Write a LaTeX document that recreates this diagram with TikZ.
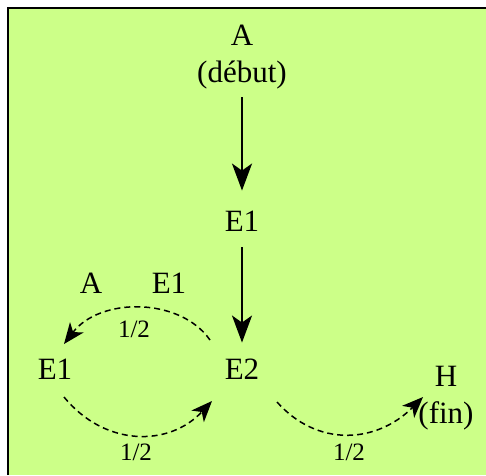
\documentclass[tikz,border=0pt]{standalone}
\usepackage{fontspec}
\setmainfont{Liberation Serif}
\usetikzlibrary{arrows.meta,calc}
\definecolor{bggreen}{RGB}{204,255,136}
\begin{document}
\begin{tikzpicture}[x=1pt,y=-1pt,
  lbl/.style={inner sep=0pt,font=\fontsize{31}{37}\selectfont,align=center},
  prob/.style={inner sep=0pt,font=\fontsize{25}{28}\selectfont},
  solidarrow/.style={line width=2.2pt,-{Stealth[length=27pt,width=20pt,inset=7pt]}},
  dasharrow/.style={line width=1.5pt,dash pattern=on 6pt off 4pt,-{Stealth[length=21pt,width=17pt,inset=6pt]}}]
\useasboundingbox (0,0) rectangle (486,475);
\fill[white] (0,0) rectangle (486,475);
\fill[bggreen] (8,8) rectangle (486,475);
\draw[line width=2pt] (8,475) -- (8,8) -- (486,8);
\node[lbl] (start) at (242,57) {A\\(début)};
\node[lbl] (mid) at (242,221) {E1};
\node[lbl] (e2) at (242,369) {E2};
\node[lbl] (e1) at (55,369) {E1};
\node[lbl] (la) at (91,283) {A};
\node[lbl] (le) at (169,283) {E1};
\node[lbl] (h) at (446,398) {H\\(fin)};
\node[prob] (p1) at (134,329) {1/2};
\node[prob] (p2) at (136,452) {1/2};
\node[prob] (p3) at (349,452) {1/2};
\draw[solidarrow,shorten <=8pt,shorten >=20pt] (start.south) -- (mid.north);
\draw[solidarrow,shorten <=16pt,shorten >=16pt] (mid.south) -- (e2.north);
\draw[dasharrow] ($(e2)+(-32,-29)$) .. controls ($(e2)+(-62,-72)$) and ($(e1)+(45,-72)$) .. ($(e1)+(9,-25)$);
\draw[dasharrow] ($(e1)+(9,28)$) .. controls ($(e1)+(50,78)$) and ($(e2)+(-73,78)$) .. ($(e2)+(-30,32)$);
\draw[dasharrow] ($(e2)+(35,33)$) .. controls ($(e2)+(75,78)$) and ($(h)+(-70,46)$) .. ($(h)+(-23,-1)$);
\end{tikzpicture}
\end{document}
